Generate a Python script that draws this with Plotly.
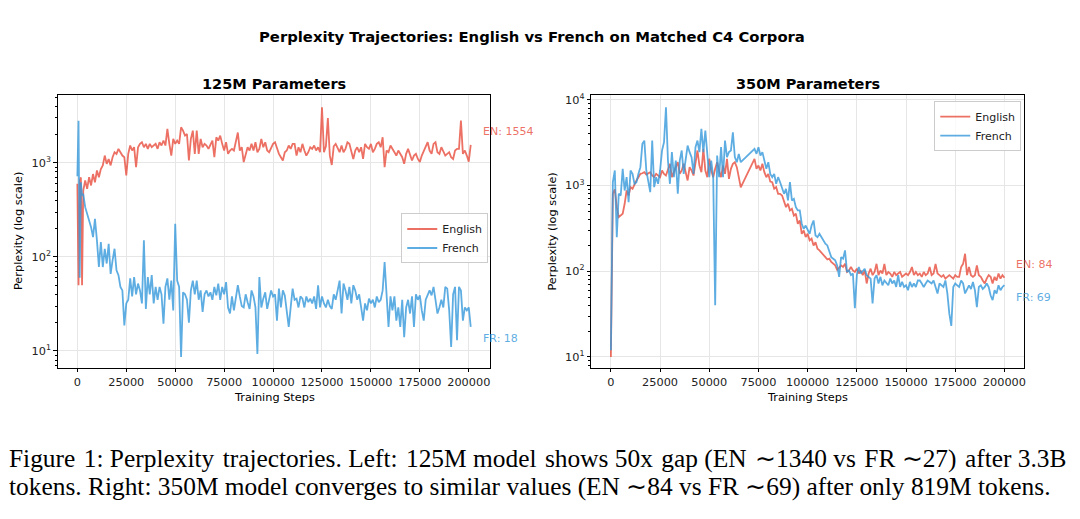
import math
import plotly.graph_objects as go

# training steps (log every 1000 steps, denser at the very start of the 125M run)
STEPS_125M = [0, 600, 1200, 1800, 2400] + list(range(3000, 202000, 1000))
# 350M log has a hole between 66k and 73k
STEPS_350M = list(range(0, 67000, 1000)) + list(range(73000, 201000, 1000))

EN_125M = [
    600, 50, 650, 700, 50,
    508, 649, 530, 704, 575, 760, 620, 829,
    704, 860, 940, 1196, 976, 1100, 940, 1148, 1298, 1246,
    1409, 1298, 1196, 1148, 734, 1246, 1528, 1352, 1467, 900,
    1467, 1592, 1658, 1467, 1592, 1409, 1592, 1467, 1528, 1592,
    1409, 1658, 1528, 1727, 1528, 2295, 1592, 1196, 1800, 1592,
    1727, 1592, 2390, 2200, 1950, 2030, 1059, 1800, 2200, 1246,
    2200, 1246, 1800, 1467, 1592, 1528, 1409, 1592, 1727, 1148,
    1870, 1727, 1950, 1592, 1352, 1658, 1246, 1352, 1409, 1352,
    1727, 2100, 1352, 1467, 1020, 1246, 1467, 1352, 1592, 1352,
    1658, 1298, 1409, 1800, 1467, 1658, 1352, 1298, 1467, 1592,
    1658, 1409, 1246, 1148, 1059, 1298, 1352, 1528, 1409, 1592,
    1592, 1196, 1467, 1298, 1592, 1352, 1196, 1298, 1467, 1409,
    1528, 1352, 1467, 1298, 3900, 1300, 1500, 3000, 1200, 950,
    1500, 1592, 1409, 1298, 1528, 1298, 1409, 1658, 1592, 1352,
    1100, 1352, 1467, 1298, 1467, 1100, 1592, 1467, 1409, 1592,
    1298, 1409, 1592, 1658, 1467, 1870, 900, 1352, 1298, 1528,
    1409, 1298, 1196, 1352, 1246, 1148, 976, 1246, 1409, 1196,
    1059, 1196, 1246, 1100, 1020, 1196, 1352, 1467, 1658, 1352,
    1246, 1592, 1658, 1298, 1246, 1467, 1298, 1196, 1246, 1298,
    1148, 1100, 1352, 1409, 1409, 2810, 1246, 1352, 1196, 1030,
    1554,
]

FR_125M = [
    720, 2800, 60, 620, 450,
    469, 338, 290, 254, 207, 162, 254, 150,
    78, 144, 78, 122, 85, 138, 66, 92, 122, 72,
    64, 48, 44, 18.7, 32, 35, 59, 38, 61, 40,
    52, 44, 32, 150, 28, 61, 40, 64, 32, 48,
    35, 48, 40, 19.5, 48, 59, 35, 56, 27, 225,
    56, 48, 8.6, 42, 40, 35, 20, 44, 56, 40,
    56, 35, 44, 26, 40, 44, 38, 42, 35, 48,
    39, 52, 35, 48, 40, 54, 29, 25, 38, 27,
    35, 50, 38, 30, 29, 40, 33, 28, 44, 38,
    29, 9.3, 61, 29, 36, 42, 28, 36, 44, 38,
    40, 21, 46, 29, 44, 39, 25, 18, 29, 46,
    35, 36, 29, 38, 36, 29, 38, 33, 36, 32,
    38, 28, 50, 29, 38, 32, 29, 35, 30, 28,
    40, 35, 44, 56, 25, 52, 44, 35, 48, 32,
    50, 44, 35, 40, 29, 21, 32, 27, 36, 32,
    35, 29, 38, 33, 35, 44, 88, 35, 18, 38,
    27, 38, 21, 29, 18, 35, 14, 29, 35, 25,
    38, 18, 40, 35, 39, 27, 21, 35, 40, 44,
    39, 48, 35, 25, 29, 35, 29, 48, 46, 27,
    11, 40, 48, 13, 48, 44, 21, 29, 27, 29,
    18,
]

EN_350M = [
    10, 800, 900, 559, 428, 445, 468, 612, 874, 765, 956,
    915, 1046, 1144, 1250, 1367, 1390, 1430, 1340, 1390, 1430,
    1307, 1250, 1367, 1307, 1250, 1496, 1367, 1307, 1565, 1790,
    1250, 1430, 1710, 1870, 1367, 1496, 1790, 1430, 1144, 1635,
    1496, 1307, 1955, 2560, 1710, 1430, 2680, 1496, 1250, 2050,
    1496, 1250, 1565, 1870, 1496, 1250, 1710, 1367, 2050, 1196,
    1565, 1790, 1870, 1635, 1250, 950,
    2040, 1565, 1710, 1496, 1790, 1430, 1250, 1367,
    1110, 1093, 915, 956, 800, 800, 765, 669, 559, 612,
    512, 535, 445, 468, 358, 391, 273, 299, 250, 273,
    229, 240, 200, 218, 183, 175, 163, 153, 146, 137,
    140, 128, 122, 117, 104, 112, 117, 112, 122, 98,
    102, 112, 102, 98, 107, 94, 102, 90, 102, 72,
    94, 107, 90, 98, 122, 90, 102, 94, 122, 90,
    98, 94, 86, 98, 90, 94, 98, 86, 90, 94,
    90, 98, 112, 90, 98, 90, 94, 86, 98, 90,
    94, 112, 90, 94, 122, 94, 90, 86, 90, 82,
    86, 90, 86, 82, 90, 86, 86, 112, 122, 160,
    90, 112, 90, 86, 90, 117, 90, 86, 78, 72,
    82, 90, 86, 72, 86, 78, 94, 82, 90, 84,
]

FR_350M = [
    12, 1093, 1496, 250, 800, 765, 1565, 874, 1250, 640, 1496,
    1367, 1046, 1093, 1367, 1635, 3060, 3340, 1496, 1144, 836,
    3340, 956, 1250, 1046, 1496, 2560, 3200, 8190, 1955, 1046,
    2450, 1250, 1955, 800, 1955, 2560, 1367, 1955, 2920, 2450,
    2140, 1367, 2800, 3340, 2450, 4570, 2450, 4380, 2560, 1250,
    1955, 1250, 40, 2240, 1250, 2800, 1250, 3340, 2140, 2450,
    2560, 4180, 2140, 1870, 2340, 1870,
    2670, 2340, 2800, 2240, 2450, 1955, 1565, 1870,
    1367, 1250, 1367, 1046, 1250, 1093, 956, 800, 915, 669,
    1093, 669, 700, 559, 512, 512, 358, 312, 341, 299,
    273, 341, 391, 261, 250, 273, 250, 229, 209, 200,
    175, 146, 140, 134, 117, 86, 146, 140, 175, 98,
    102, 90, 94, 37, 90, 112, 94, 102, 107, 90,
    86, 82, 42, 82, 90, 72, 86, 68.5, 78, 72,
    68.5, 82, 72, 78, 65.5, 90, 65.5, 75, 65.5, 68.5,
    60, 75, 65.5, 72, 65.5, 78, 78, 72, 65.5, 72,
    78, 75, 72, 78, 65.5, 55, 72, 68.5, 65.5, 78,
    55, 32, 23, 65.5, 72, 68.5, 65.5, 78, 72, 55,
    62, 68.5, 62, 75, 60, 38, 65.5, 68.5, 62, 65.5,
    72, 65.5, 52, 46, 60, 55, 68.5, 60, 65.5, 69,
]

X_TICKS = [0, 25000, 50000, 75000, 100000, 125000, 150000, 175000, 200000]
Y_TICKS = [10, 100, 1000, 10000]
Y_TICK_TEXT = ["10<sup>1</sup>", "10<sup>2</sup>", "10<sup>3</sup>", "10<sup>4</sup>"]

TITLE = "Perplexity Trajectories: English vs French on Matched C4 Corpora"
CAPTION = [
    "Figure 1: Perplexity trajectories. Left: 125M model shows 50x gap (EN \u223c1340 vs FR \u223c27) after 3.3B",
    "tokens. Right: 350M model converges to similar values (EN \u223c84 vs FR \u223c69) after only 819M tokens.",
]

for s, e, f in [(STEPS_125M, EN_125M, FR_125M), (STEPS_350M, EN_350M, FR_350M)]:
    assert len(s) == len(e) == len(f), (len(s), len(e), len(f))

EN_COLOR = "rgba(231,76,60,0.8)"
FR_COLOR = "rgba(52,152,219,0.8)"
FONT = "DejaVu Sans"
W, H = 1080, 519

fig = go.Figure()


def px_x(p):
    return p / W


def px_y(p):
    return 1 - p / H


def label(text, x, y, size=11.3, bold=False, angle=0, family=FONT, xanchor="center"):
    if bold:
        text = f"<b>{text}</b>"
    fig.add_annotation(text=text, xref="paper", yref="paper", x=px_x(x), y=px_y(y),
                       xanchor=xanchor, yanchor="middle", textangle=angle, showarrow=False,
                       font=dict(family=family, size=size, color="black"))


def add_panel(n, steps, en, fr, title, xpix, xrange, yrange, legend_pos):
    xa = "x" if n == 1 else f"x{n}"
    ya = "y" if n == 1 else f"y{n}"
    leg = "legend" if n == 1 else f"legend{n}"
    fig.add_trace(go.Scatter(x=steps, y=en, mode="lines", name="English",
                             line=dict(color=EN_COLOR, width=1.8), xaxis=xa, yaxis=ya, legend=leg))
    fig.add_trace(go.Scatter(x=steps, y=fr, mode="lines", name="French",
                             line=dict(color=FR_COLOR, width=1.8), xaxis=xa, yaxis=ya, legend=leg))

    axis_common = dict(showline=True, linecolor="black", linewidth=1, mirror=True,
                       ticks="outside", ticklen=3.5, tickcolor="black",
                       showgrid=True, gridcolor="#e6e6e6", gridwidth=0.8, zeroline=False,
                       tickfont=dict(family=FONT, size=11.3, color="#222222"))
    xkey = "xaxis" if n == 1 else f"xaxis{n}"
    ykey = "yaxis" if n == 1 else f"yaxis{n}"
    fig.update_layout({
        xkey: dict(axis_common, domain=[px_x(xpix[0]), px_x(xpix[1])], range=xrange, anchor=ya,
                   tickvals=X_TICKS, ticktext=[str(t) for t in X_TICKS]),
        ykey: dict(axis_common, domain=[px_y(366.7), px_y(92.5)], type="log", range=yrange,
                   anchor=xa, tickvals=Y_TICKS, ticktext=Y_TICK_TEXT,
                   minor=dict(ticks="outside", ticklen=2, tickcolor="black", dtick="D1", showgrid=False)),
        leg: dict(x=px_x(legend_pos[0]), y=px_y(legend_pos[1]), xanchor="left", yanchor="top",
                  bgcolor="rgba(255,255,255,0.8)", bordercolor="#cccccc", borderwidth=1,
                  font=dict(family=FONT, size=11, color="#222222")),
    })

    mid = (xpix[0] + xpix[1]) / 2
    label(title, mid, 81.7, size=14.5, bold=True)
    label("Training Steps", mid, 396.5)
    label("Perplexity (log scale)", xpix[0] - 39, 229.6, angle=-90)

    # final values next to the line ends
    fig.add_annotation(text=f"EN: {en[-1]:.0f}", xref=xa, yref=ya, x=steps[-1], y=math.log10(en[-1]),
                       xanchor="left", yanchor="middle", xshift=10, yshift=13, showarrow=False,
                       font=dict(family=FONT, size=11, color=EN_COLOR))
    fig.add_annotation(text=f"FR: {fr[-1]:.0f}", xref=xa, yref=ya, x=steps[-1], y=math.log10(fr[-1]),
                       xanchor="left", yanchor="middle", xshift=10, yshift=-12, showarrow=False,
                       font=dict(family=FONT, size=11, color=FR_COLOR))


add_panel(1, STEPS_125M, EN_125M, FR_125M, "125M Parameters",
          (57.8, 491.3), [-10050, 211050], [0.823, 3.722], (402, 211.7))
add_panel(2, STEPS_350M, EN_350M, FR_350M, "350M Parameters",
          (592.3, 1026), [-10000, 210000], [0.876, 4.056], (936, 98.7))

label(TITLE, 533, 34, size=14.8, bold=True)
# first caption line is justified in the paper: widen every other word gap with a hair space
words = CAPTION[0].split(" ")
line1 = words[0]
for i, w in enumerate(words[1:]):
    line1 += (" \u200a" if i % 2 == 0 else " ") + w
label(line1, 7.3, 458.5, size=25.4, family="Liberation Serif", xanchor="left")
label(CAPTION[1], 7.3, 486.1, size=25.4, family="Liberation Serif", xanchor="left")

fig.update_layout(width=W, height=H, margin=dict(l=0, r=0, t=0, b=0),
                  paper_bgcolor="white", plot_bgcolor="white", showlegend=True)

fig.write_html("out.html", config={"displayModeBar": False},
               post_script="document.body.style.margin='0px';")
